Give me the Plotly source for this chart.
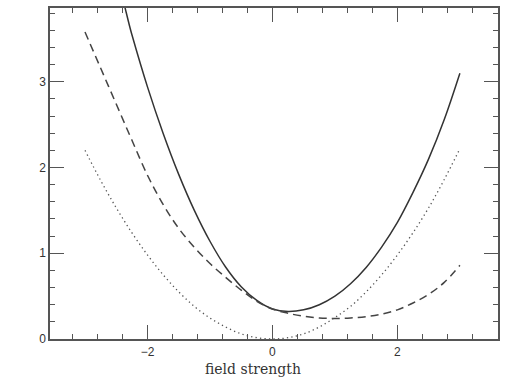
import plotly.graph_objects as go

# x samples (field strength)
x_vals = [-3.0, -2.75, -2.5, -2.25, -2.0, -1.75, -1.5, -1.25, -1.0, -0.75, -0.5, -0.25,
          0.0, 0.25, 0.5, 0.75, 1.0, 1.25, 1.5, 1.75, 2.0, 2.25, 2.5, 2.75, 3.0]

solid_y = [4.95, 4.58, 4.22, 3.55, 2.94, 2.40, 1.92, 1.50, 1.14, 0.84, 0.61, 0.45,
           0.35, 0.32, 0.34, 0.40, 0.50, 0.645, 0.835, 1.075, 1.36, 1.71, 2.10, 2.56, 3.10]

dashed_y = [3.58, 3.16, 2.74, 2.32, 1.91, 1.57, 1.29, 1.07, 0.88, 0.72, 0.57, 0.44,
            0.35, 0.30, 0.265, 0.245, 0.24, 0.245, 0.26, 0.29, 0.34, 0.42, 0.52, 0.66, 0.86]

dotted_y = [2.20, 1.85, 1.53, 1.24, 0.98, 0.75, 0.55, 0.38, 0.245, 0.14, 0.06, 0.015,
            0.0, 0.015, 0.06, 0.14, 0.25, 0.38, 0.55, 0.75, 0.98, 1.24, 1.53, 1.86, 2.22]

x_ticks = [-2, 0, 2]
y_ticks = [0, 1, 2, 3]
x_title = "field strength"

fig = go.Figure()
fig.add_trace(go.Scatter(x=x_vals, y=solid_y, mode="lines", line_shape="spline",
                         line=dict(color="#333333", width=1.5), showlegend=False))
fig.add_trace(go.Scatter(x=x_vals, y=dashed_y, mode="lines", line_shape="spline",
                         line=dict(color="#444444", width=1.5, dash="8px,5px"), showlegend=False))
fig.add_trace(go.Scatter(x=x_vals, y=dotted_y, mode="lines", line_shape="spline",
                         line=dict(color="#555555", width=1.3, dash="1.3px,3.2px"), showlegend=False))

axis_common = dict(showline=True, linecolor="#555555", linewidth=1.5, mirror="allticks",
                   ticks="inside", tickcolor="#555555", tickwidth=1.3, showgrid=False,
                   zeroline=False, tickfont=dict(family="Liberation Sans, Arial", size=12, color="#333333"))

fig.update_xaxes(range=[-3.56, 3.61], tickvals=x_ticks, ticktext=["\u22122", "0", "2"], ticklen=14,
                 minor=dict(dtick=0.4, tick0=0, ticklen=5, ticks="inside", tickcolor="#555555", tickwidth=1.2, showgrid=False),
                 ticklabelstandoff=1,
                 **axis_common)
fig.update_yaxes(range=[0, 3.86], tickvals=y_ticks, ticklen=14,
                 minor=dict(dtick=0.2, tick0=0, ticklen=5, ticks="inside", tickcolor="#555555", tickwidth=1.2, showgrid=False),
                 **axis_common)

fig.add_annotation(text=x_title, xref="paper", yref="paper", x=(253 - 50) / 449, y=-30 / 333,
                   xanchor="center", yanchor="middle", showarrow=False,
                   font=dict(family="DejaVu Serif", size=14, color="#333333"))

fig.update_layout(width=506, height=379, margin=dict(l=50, r=7, t=6, b=40),
                  plot_bgcolor="white", paper_bgcolor="white")

fig.write_html("out.html")
